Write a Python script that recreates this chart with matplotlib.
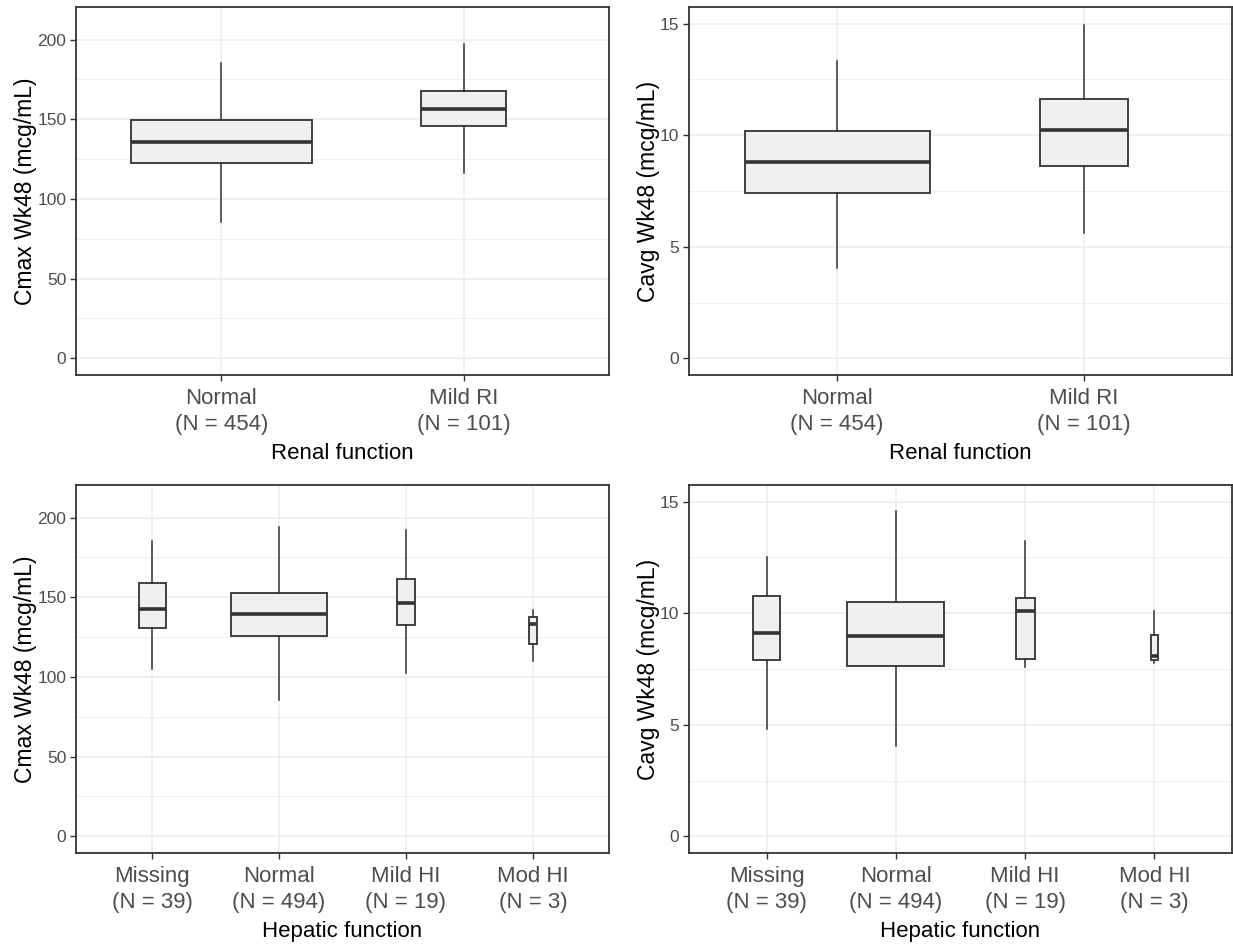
import matplotlib
matplotlib.use("Agg")
import matplotlib.pyplot as plt
from matplotlib.ticker import MultipleLocator

plt.rcParams["font.family"] = ["Liberation Sans", "DejaVu Sans"]

# -----------------------------------------------------------------------
# Data
# -----------------------------------------------------------------------
renal_labels = ["Normal\n(N = 454)", "Mild RI\n(N = 101)"]
renal_n = [454, 101]
hepatic_labels = ["Missing\n(N = 39)", "Normal\n(N = 494)", "Mild HI\n(N = 19)", "Mod HI\n(N = 3)"]
hepatic_n = [39, 494, 19, 3]

# each row: whisker low, Q1, median, Q3, whisker high
cmax_renal = [[85.3, 122.7, 136.0, 149.4, 185.6],
              [116.6, 145.9, 156.5, 167.8, 197.5]]
cavg_renal = [[4.05, 7.42, 8.78, 10.18, 13.31],
              [5.62, 8.61, 10.24, 11.62, 14.95]]
cmax_hepatic = [[104.7, 130.8, 142.5, 159.2, 185.6],
                [85.5, 125.6, 139.6, 152.8, 193.9],
                [102.2, 132.9, 146.3, 161.3, 192.1],
                [110.3, 120.8, 133.3, 137.5, 142.3]]
cavg_hepatic = [[4.83, 7.90, 9.11, 10.78, 12.52],
                [4.06, 7.63, 8.99, 10.51, 14.57],
                [7.59, 7.95, 10.11, 10.68, 13.24],
                [7.75, 7.89, 8.07, 9.02, 10.08]]

W, H = 1233, 946
BOX_FILL = "#F0F0F0"
LINE_COL = "#333333"
BOX_EDGE = "#404040"
GRID_COL = "#EBEBEB"
TEXT_COL = "#4D4D4D"


def panel(fig, px, labels, ns, rows, ylabel, xlabel, ylim, major, minor):
    left, top, right, bottom = px
    ax = fig.add_axes([left / W, 1 - bottom / H, (right - left) / W, (bottom - top) / H])

    nmax = max(ns)
    widths = [0.75 * (n / nmax) ** 0.5 for n in ns]
    stats = [dict(whislo=r[0], q1=r[1], med=r[2], q3=r[3], whishi=r[4], fliers=[])
             for r in rows]
    pos = list(range(1, len(rows) + 1))
    ax.bxp(stats, positions=pos, widths=widths, patch_artist=True,
           showcaps=False, showfliers=False,
           boxprops=dict(facecolor=BOX_FILL, edgecolor=BOX_EDGE, linewidth=1.4),
           medianprops=dict(color=LINE_COL, linewidth=2.6, solid_capstyle="butt"),
           whiskerprops=dict(color=LINE_COL, linewidth=1.1),
           zorder=3)

    ax.set_xlim(0.4, len(rows) + 0.6)
    ax.set_ylim(*ylim)
    ax.set_xticks(pos)
    ax.set_xticklabels(labels, fontsize=16, color=TEXT_COL, linespacing=1.35)
    ax.yaxis.set_major_locator(MultipleLocator(major))
    ax.yaxis.set_minor_locator(MultipleLocator(minor))
    ax.tick_params(axis="y", labelsize=12.5, labelcolor=TEXT_COL, color=LINE_COL,
                   length=4, width=1.0, pad=3)
    ax.tick_params(axis="x", color=LINE_COL, length=4, width=1.0, pad=5)
    ax.tick_params(axis="y", which="minor", length=0)

    ax.grid(True, which="major", color=GRID_COL, linewidth=1.1, zorder=0)
    ax.grid(True, which="minor", axis="y", color=GRID_COL, linewidth=0.6, zorder=0)
    ax.set_axisbelow(True)
    for sp in ax.spines.values():
        sp.set_color(LINE_COL)
        sp.set_linewidth(1.3)

    ax.set_ylabel(ylabel, fontsize=16.5, labelpad=0)
    ax.set_xlabel(xlabel, fontsize=16, labelpad=5.5)
    return ax


fig = plt.figure(figsize=(W / 100, H / 100), dpi=100)

cmax_lim = (-10.5, 220.5)
cavg_lim = (-0.75, 15.75)

panel(fig, (76, 7, 609, 375), renal_labels, renal_n, cmax_renal,
      "Cmax Wk48 (mcg/mL)", "Renal function", cmax_lim, 50, 25)
panel(fig, (689, 7, 1232, 375), renal_labels, renal_n, cavg_renal,
      "Cavg Wk48 (mcg/mL)", "Renal function", cavg_lim, 5, 2.5)
panel(fig, (76, 485, 609, 853), hepatic_labels, hepatic_n, cmax_hepatic,
      "Cmax Wk48 (mcg/mL)", "Hepatic function", cmax_lim, 50, 25)
panel(fig, (689, 485, 1232, 853), hepatic_labels, hepatic_n, cavg_hepatic,
      "Cavg Wk48 (mcg/mL)", "Hepatic function", cavg_lim, 5, 2.5)

fig.savefig("out.png", dpi=100, facecolor="white")
